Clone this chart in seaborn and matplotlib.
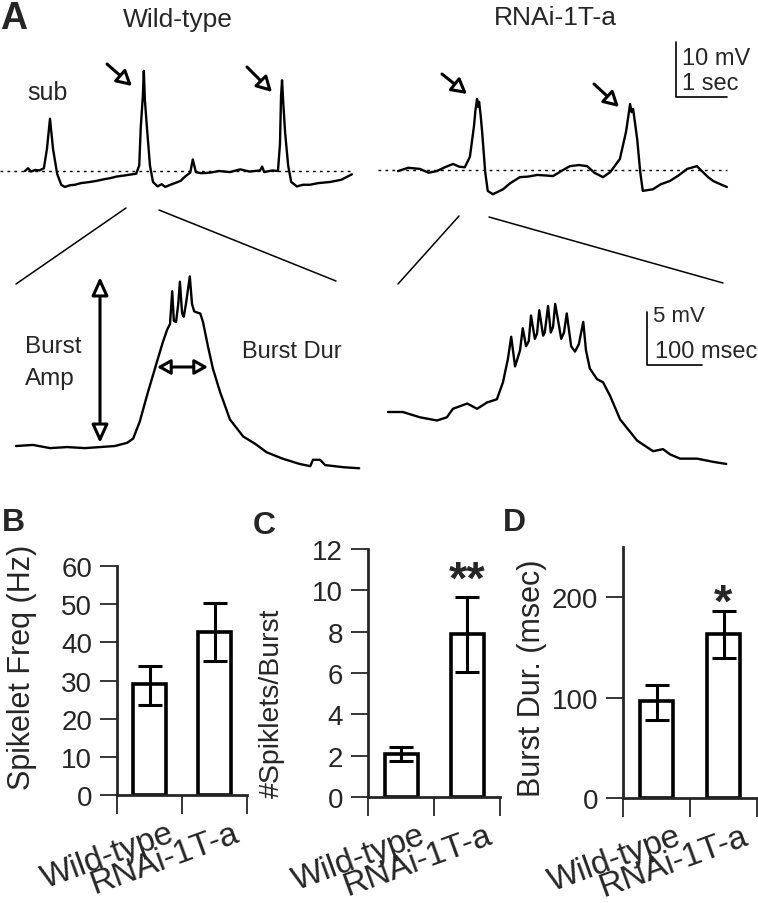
import numpy as np
import pandas as pd
import seaborn as sns
import matplotlib.pyplot as plt
from matplotlib.transforms import ScaledTranslation

W, H = 758, 904

# ---- data ----
genotypes = ["Wild-type", "RNAi-1T-a"]

freq_mean = [29.0, 42.7]
freq_lo = [23.5, 35.0]
freq_hi = [33.8, 50.2]

spk_mean = [2.1, 7.9]
spk_lo = [1.75, 6.05]
spk_hi = [2.4, 9.7]

dur_mean = [97, 163]
dur_lo = [78, 139]
dur_hi = [113, 186]

# slow traces (sec, mV relative to resting level)
wt_t = [0, 0.06, 0.12, 0.2, 0.28, 0.37, 0.43, 0.49, 0.55, 0.63,
        0.71, 0.78, 0.88, 0.98, 1.1, 1.27, 1.4, 1.55, 1.67, 1.8,
        1.96, 2.1, 2.18, 2.24, 2.27, 2.31, 2.33, 2.35, 2.39, 2.45,
        2.51, 2.6, 2.68, 2.75, 2.85, 2.94, 3.05, 3.14, 3.24, 3.29,
        3.35, 3.45, 3.63, 3.8, 4.02, 4.22, 4.4, 4.61, 4.65, 4.69,
        4.85, 4.96, 5.0, 5.02, 5.04, 5.06, 5.1, 5.16, 5.22, 5.33,
        5.45, 5.59, 5.75, 5.98, 6.2, 6.41]
wt_mv = [0, 0.5, -0.1, 0.2, 0.1, 0.5, 4, 9.5, 4, -0.5,
         -2.5, -2.9, -2.6, -2.5, -2.2, -2.0, -1.8, -1.5, -1.3, -1.0,
         -0.8, -0.6, -0.5, 1, 8, 13.5, 18.2, 13, 8, 1,
         -2, -2.8, -2.4, -2.9, -2.5, -2.2, -1.8, -1, -0.3, 2.1,
         -0.2, -0.4, -0.3, 0, -0.2, 0.3, -0.1, 0.1, 0.8, -0.2,
         0.1, 0, 5, 13.5, 16.5, 13, 7, 1, -2, -2.8,
         -2.5, -2.5, -2.2, -2, -1.6, -0.6]

rnai_t = [0, 0.2, 0.43, 0.6, 0.76, 0.92, 1.08, 1.2, 1.31, 1.41,
          1.49, 1.52, 1.55, 1.57, 1.59, 1.62, 1.65, 1.71, 1.76, 1.86,
          2.06, 2.2, 2.39, 2.55, 2.73, 2.9, 3.04, 3.2, 3.37, 3.55,
          3.71, 3.85, 4.02, 4.16, 4.35, 4.47, 4.52, 4.55, 4.58, 4.61,
          4.69, 4.75, 4.8, 5.0, 5.15, 5.33, 5.5, 5.67, 5.86, 5.98,
          6.08, 6.18, 6.3, 6.45]
rnai_mv = [-0.2, 0.4, 0.2, -0.5, -0.2, 0.5, 1.1, 0.6, 0.5, 2.4,
           8, 11, 12.9, 11.5, 12.4, 10, 6.9, -0.4, -3.8, -4.4,
           -3.5, -2.4, -1.3, -1.2, -0.9, -1.0, -1.1, -0.2, 0.7, 0.9,
           0.7, -0.5, -1.3, -0.4, 2, 6.9, 10, 12, 10.5, 11.1,
           5.6, -0.4, -3.8, -3.5, -2.6, -2, -1.0, 0.2, 0.7, -0.4,
           -1.3, -2, -2.5, -3.1]

# expanded bursts (msec, mV)
wt_burst_ms = [0, 31, 62, 93, 125, 153, 180, 202, 213, 225,
               240, 256, 267, 275, 280, 284, 287, 291, 295, 298,
               302, 305, 309, 316, 320, 324, 329, 335, 340, 349,
               358, 371, 389, 413, 435, 456, 485, 516, 535, 540,
               553, 562, 595, 624]
wt_burst_mv = [0, 0.1, -0.2, -0.1, -0.2, -0.1, 0, 0.3, 0.7, 2.3,
               5.1, 7.9, 9.8, 11, 11.5, 14.6, 11.8, 11.7, 13.4, 15.5,
               12.5, 12.2, 13.4, 16, 13.4, 12.7, 12.6, 12.5, 11.7, 9.4,
               7.3, 5.1, 2.5, 0.9, 0.2, -0.6, -1.2, -1.7, -1.9, -1.3,
               -1.3, -1.8, -2, -2.1]

rnai_burst_ms = [0, 27, 58, 89, 107, 118, 144, 162, 180, 198,
                 209, 218, 224, 231, 240, 245, 251, 256, 260, 267,
                 271, 275, 282, 285, 291, 296, 300, 304, 315, 320,
                 325, 333, 340, 347, 355, 360, 367, 380, 391, 404,
                 422, 453, 482, 500, 513, 531, 562, 591, 615]
rnai_burst_mv = [0, 0, -0.5, -0.8, -0.5, 0.3, 0.8, 0.3, 0.9, 1.2,
                 2.8, 5, 7.1, 4.3, 5.8, 7.9, 6.2, 6.7, 9.1, 6.9,
                 7.4, 9.6, 7.2, 7.5, 10, 7.5, 8, 10.2, 6.9, 7.5,
                 9.3, 6.2, 5.7, 6.4, 8.5, 5.8, 4.1, 3.1, 2.8, 1.5,
                 -0.7, -2.7, -3.7, -3.5, -4, -4.4, -4.4, -4.7, -4.9]

sns.set_style("ticks")
plt.rcParams["font.family"] = ["Liberation Sans", "DejaVu Sans"]

fig = plt.figure(figsize=(W / 100, H / 100), dpi=100)


def px_rect(x0, y0, x1, y1):
    return [x0 / W, 1 - y1 / H, (x1 - x0) / W, (y1 - y0) / H]


# overlay in pixel coords for labels / decorations
ov = fig.add_axes([0, 0, 1, 1])
ov.set_xlim(0, W)
ov.set_ylim(H, 0)
ov.axis("off")


def trace_ax(x0, y0, sx, sy):
    # full-figure axes whose data origin sits at pixel (x0, y0)
    ax = fig.add_axes([0, 0, 1, 1])
    ax.set_xlim(-x0 / sx, (W - x0) / sx)
    ax.set_ylim(-(H - y0) / sy, y0 / sy)
    ax.axis("off")
    ax.patch.set_alpha(0)
    return ax


def draw_trace(ax, t, v):
    sns.lineplot(x=t, y=v, ax=ax, color="black", lw=1.7,
                 estimator=None, sort=False)


# ---- panel A ----
ax_wt = trace_ax(25, 172, 51, 5.5)
draw_trace(ax_wt, wt_t, wt_mv)
ax_wt.plot([-0.49, 6.41], [0, 0], color="black", lw=1, ls=(0, (2, 3)))

ax_rn = trace_ax(398, 171, 51, 5.5)
draw_trace(ax_rn, rnai_t, rnai_mv)
ax_rn.plot([-0.39, 6.45], [0, 0], color="black", lw=1, ls=(0, (2, 3)))
# 10 mV / 1 sec scale bar
sb_t, sb_v = 5.45, 13.3
ax_rn.plot([sb_t, sb_t, sb_t + 1], [sb_v + 10, sb_v, sb_v], color="black", lw=1.2)

ax_wtb = trace_ax(16, 447, 0.55, 10.6)
draw_trace(ax_wtb, wt_burst_ms, wt_burst_mv)

ax_rnb = trace_ax(388, 413, 0.55, 10.6)
draw_trace(ax_rnb, rnai_burst_ms, rnai_burst_mv)
# 5 mV / 100 msec scale bar
sb_t, sb_v = 471, 4.43
ax_rnb.plot([sb_t, sb_t, sb_t + 100], [sb_v + 5, sb_v, sb_v], color="black", lw=1.2)

# text
ov.text(0, 1, "A", fontsize=27, fontweight="bold", va="top", ha="left")
ov.text(178, 27, "Wild-type", fontsize=19, ha="center", va="baseline")
ov.text(555, 25, "RNAi-1T-a", fontsize=19, ha="center", va="baseline")
ov.text(47, 100, "sub", fontsize=18, ha="center", va="baseline")
ov.text(682, 65, "10 mV", fontsize=17, va="baseline")
ov.text(682, 90, "1 sec", fontsize=17, va="baseline")
ov.text(653, 322, "5 mV", fontsize=16, va="baseline")
ov.text(655, 358, "100 msec", fontsize=17, va="baseline")
ov.text(25, 353, "Burst", fontsize=17.5, va="baseline")
ov.text(25, 385, "Amp", fontsize=17.5, va="baseline")
ov.text(242, 358, "Burst Dur", fontsize=17, va="baseline")

# open-headed arrows
open_arrow = dict(arrowstyle="-|>,head_length=0.9,head_width=0.5", lw=2.2,
                  fc="white", ec="black", shrinkA=0, shrinkB=0)
for (x0, y0), (x1, y1) in [((107, 65), (132, 87)), ((247, 68), (272, 93)),
                           ((442, 75), (467, 95)), ((594, 85), (619, 108))]:
    ov.annotate("", xy=(x1, y1), xytext=(x0, y0), arrowprops=open_arrow)

dbl = dict(arrowstyle="<|-|>,head_length=1.1,head_width=0.5", lw=2.2,
           fc="white", ec="black", shrinkA=0, shrinkB=0)
ov.annotate("", xy=(100, 278), xytext=(100, 444), arrowprops=dbl)
dbl2 = dict(arrowstyle="<|-|>,head_length=0.8,head_width=0.45", lw=2.2,
            fc="white", ec="black", shrinkA=0, shrinkB=0)
ov.annotate("", xy=(157, 368), xytext=(208, 368), arrowprops=dbl2)

# expansion lines
for (x0, y0), (x1, y1) in [((126, 209), (16, 285)), ((159, 211), (336, 282)),
                           ((459, 217), (398, 285)), ((489, 218), (723, 284))]:
    ov.plot([x0, x1], [y0, y1], color="black", lw=1.1)


# ---- panels B-D ----
def bar_panel(rect, means, lo, hi, ylim, yticks, ylabel, label_xy, label_size):
    ax = fig.add_axes(rect)
    df = pd.DataFrame({"genotype": genotypes, "value": means})
    sns.barplot(data=df, x="genotype", y="value", ax=ax, color="white",
                edgecolor="black", linewidth=2.6, width=0.5, errorbar=None,
                saturation=1)
    m = np.array(means)
    ax.errorbar([0, 1], m, yerr=[m - np.array(lo), np.array(hi) - m], fmt="none",
                ecolor="black", elinewidth=2.2, capsize=8.5, capthick=2.2, zorder=5)
    ax.set_xlim(-0.5, 1.5)
    ax.set_ylim(*ylim)
    ax.set_yticks(yticks)
    ax.set_xticks([0, 1])
    ax.set_xticklabels([])
    ax.set_xticks([-0.5, 0.5, 1.5], minor=True)
    ax.set_xlabel("")
    sns.despine(ax=ax)
    for s in ["left", "bottom"]:
        ax.spines[s].set_linewidth(2)
    ax.tick_params(axis="x", which="major", length=0)
    ax.tick_params(axis="x", which="minor", length=14, width=1.3, direction="out")
    ax.tick_params(axis="y", length=12, width=1.3, direction="out", labelsize=20, pad=6)
    ax.set_ylabel(ylabel, fontsize=label_size)
    ax.yaxis.set_label_coords(label_xy[0] / W, 1 - label_xy[1] / H,
                              transform=fig.transFigure)
    off = ScaledTranslation(0.18, -0.22, fig.dpi_scale_trans)
    for i, g in enumerate(genotypes):
        ax.text(i, 0, g, transform=ax.get_xaxis_transform() + off, fontsize=24,
                rotation=20, ha="right", va="top", rotation_mode="anchor")
    return ax


axB = bar_panel(px_rect(117, 567, 247, 796), freq_mean, freq_lo, freq_hi,
                (0, 60), [0, 10, 20, 30, 40, 50, 60], "Spikelet Freq (Hz)",
                (37, 667), 22)
axC = bar_panel(px_rect(368, 550, 500, 798), spk_mean, spk_lo, spk_hi,
                (0, 12), [0, 2, 4, 6, 8, 10, 12], "#Spiklets/Burst",
                (285, 703), 20.5)
axD = bar_panel(px_rect(623, 548, 757, 799), dur_mean, dur_lo, dur_hi,
                (0, 250), [0, 100, 200], "Burst Dur. (msec)",
                (547, 678), 22)

axC.text(1, 9.9, "**", fontsize=34, fontweight="bold", ha="center", va="baseline")
axD.text(1, 182, "*", fontsize=34, fontweight="bold", ha="center", va="baseline")

ov.text(2, 508, "B", fontsize=23, fontweight="bold", va="top", ha="left")
ov.text(253, 511, "C", fontsize=23, fontweight="bold", va="top", ha="left")
ov.text(503, 508, "D", fontsize=23, fontweight="bold", va="top", ha="left")

fig.savefig("out.png", dpi=100)
